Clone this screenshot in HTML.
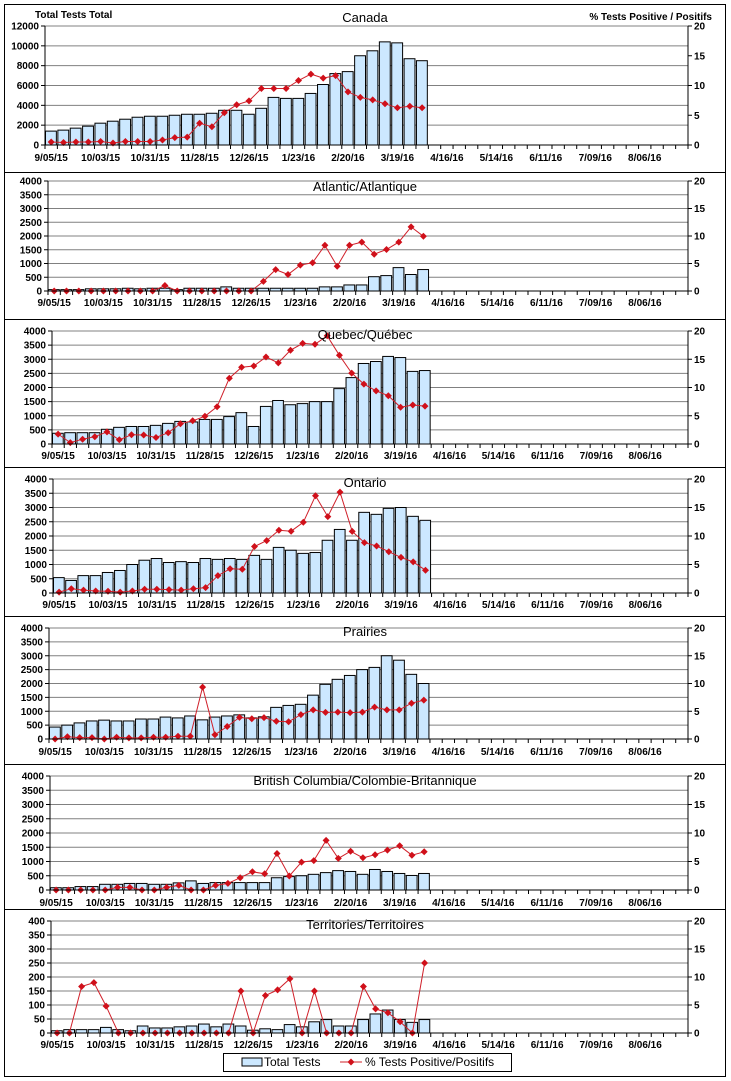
<!DOCTYPE html>
<html><head><meta charset="utf-8">
<style>
html,body{margin:0;padding:0;background:#fff;}
svg{display:block;}
text{font-family:"Liberation Sans",Arial,sans-serif;}
.t{font-size:10px;font-weight:bold;fill:#000;}
.ti{font-size:13px;fill:#000;}
</style></head>
<body>
<svg id="s" width="731" height="1081" viewBox="0 0 731 1081" xmlns="http://www.w3.org/2000/svg"></svg>
<script>
var P=[
{bt:4,bb:172,top:26,bot:145,x0:45,ymax:12000,step:2000,lab:157,title:"Canada",ty:22,scale:600,
 bars:[1400,1500,1700,1900,2200,2400,2600,2800,2900,2900,3000,3100,3100,3200,3500,3500,3100,3700,4800,4700,4700,5200,6100,7200,7400,9000,9500,10400,10300,8700,8500],
 line:[300,250,300,300,350,200,350,350,350,500,750,800,2200,1850,3250,4050,4450,5700,5700,5700,6500,7150,6750,7000,5350,4800,4550,4150,3750,3900,3750]},
{bt:172,bb:319,top:181,bot:291,x0:48,ymax:4000,step:500,lab:302,title:"Atlantic/Atlantique",ty:191,scale:200,
 bars:[50,50,50,80,80,80,100,80,100,100,50,100,100,100,150,100,100,100,100,100,100,100,150,150,220,220,520,560,850,600,780],
 line:[0,0,0,0,0,0,0,0,0,200,0,0,0,0,0,0,0,350,780,600,940,1030,1660,900,1660,1780,1340,1510,1780,2330,1990]},
{bt:319,bb:467,top:331,bot:444,x0:52,ymax:4000,step:500,lab:455,title:"Quebec/Québec",ty:339,scale:200,
 bars:[380,400,400,400,520,590,620,620,660,730,800,780,870,870,970,1110,620,1330,1540,1390,1430,1500,1500,1960,2350,2850,2920,3100,3060,2570,2600],
 line:[350,50,170,260,430,150,330,320,230,400,720,820,980,1320,2330,2720,2760,3080,2870,3320,3560,3530,3830,3140,2510,2120,1880,1710,1300,1380,1340]},
{bt:467,bb:616,top:479,bot:593,x0:53,ymax:4000,step:500,lab:604,title:"Ontario",ty:487,scale:200,
 bars:[540,440,610,610,720,790,1000,1150,1210,1070,1100,1070,1210,1180,1210,1180,1320,1180,1600,1500,1390,1420,1850,2230,1850,2830,2760,2970,3000,2690,2550],
 line:[30,150,100,70,60,30,70,130,130,120,100,150,190,610,850,830,1630,1840,2200,2170,2480,3410,2680,3540,2160,1770,1650,1450,1250,1090,800]},
{bt:616,bb:764,top:628,bot:739,x0:49,ymax:4000,step:500,lab:751,title:"Prairies",ty:636,scale:200,
 bars:[430,500,580,650,680,650,650,720,720,790,760,830,690,790,830,870,760,800,1140,1210,1250,1580,1970,2150,2290,2500,2580,3000,2840,2330,2000],
 line:[0,80,50,50,0,60,40,40,60,60,100,100,1870,150,450,780,730,770,640,620,880,1050,960,970,950,970,1150,1050,1050,1290,1400]},
{bt:764,bb:909,top:776,bot:890,x0:50,ymax:4000,step:500,lab:902,title:"British Columbia/Colombie-Britannique",ty:785,scale:200,
 bars:[80,80,120,120,200,200,230,230,200,200,250,320,230,260,260,260,260,260,430,470,500,550,610,680,650,550,720,650,580,510,580],
 line:[0,0,0,0,0,90,90,0,0,90,160,0,0,160,230,430,640,570,1280,490,980,1030,1740,1110,1360,1130,1240,1400,1550,1220,1340]},
{bt:909,bb:1077,top:921,bot:1033,x0:51,ymax:400,step:50,lab:1044,title:"Territories/Territoires",ty:929,scale:20,
 bars:[8,12,12,12,20,12,8,25,18,18,22,25,32,22,32,25,10,15,12,30,22,40,48,25,25,48,68,82,48,38,48],
 line:[0,0,166,180,96,0,0,0,0,0,0,0,0,0,0,150,0,134,154,194,0,150,0,0,0,166,86,72,40,0,250]}
];
var labels=["9/05/15","10/03/15","10/31/15","11/28/15","12/26/15","1/23/16","2/20/16","3/19/16","4/16/16","5/14/16","6/11/16","7/09/16","8/06/16"];
var X1=688,o="";
o+='<rect x="4.5" y="4.5" width="721" height="1072" fill="none" stroke="#000"/>';
P.forEach(function(p,pi){
 if(pi>0)o+='<line x1="4" x2="726" y1="'+(p.bt+0.5)+'" y2="'+(p.bt+0.5)+'" stroke="#000"/>';
 var h=p.bot-p.top, n=p.ymax/p.step, sl=(X1-p.x0)/52;
 function Y(v){return p.bot-v/p.ymax*h;}
 for(var i=0;i<=n;i++){var y=Y(i*p.step);
  if(i>0)o+='<line x1="'+p.x0+'" x2="'+X1+'" y1="'+y+'" y2="'+y+'" stroke="#808080"/>';
  o+='<line x1="'+(p.x0-4)+'" x2="'+p.x0+'" y1="'+y+'" y2="'+y+'" stroke="#000"/>';
  o+='<text class="t" x="'+(p.x0-6)+'" y="'+(y+3.5)+'" text-anchor="end">'+(i*p.step)+'</text>';}
 for(var i=0;i<=4;i++){var y=p.bot-i/4*h;
  o+='<line x1="'+X1+'" x2="'+(X1+4)+'" y1="'+y+'" y2="'+y+'" stroke="#000"/>';
  o+='<text class="t" x="'+(X1+6)+'" y="'+(y+3.5)+'">'+(i*5)+'</text>';}
 p.bars.forEach(function(v,i){var x=p.x0+i*sl+0.5;
  o+='<rect x="'+x+'" y="'+Y(v)+'" width="'+(sl-1.5)+'" height="'+(p.bot-Y(v))+'" fill="#CCE8FF" stroke="#000" stroke-width="1"/>';});
 var pts=p.line.map(function(v,i){return (p.x0+(i+0.5)*sl).toFixed(1)+','+Y(v).toFixed(1);});
 o+='<polyline points="'+pts.join(' ')+'" fill="none" stroke="#D0202A" stroke-width="1"/>';
 pts.forEach(function(s){var a=s.split(',');var x=+a[0],y=+a[1];
  o+='<polygon points="'+x+','+(y-3.5)+' '+(x+3.5)+','+y+' '+x+','+(y+3.5)+' '+(x-3.5)+','+y+'" fill="#D0101A"/>';});
 o+='<line x1="'+p.x0+'" x2="'+p.x0+'" y1="'+p.top+'" y2="'+p.bot+'" stroke="#000"/>';
 o+='<line x1="'+X1+'" x2="'+X1+'" y1="'+p.top+'" y2="'+p.bot+'" stroke="#000"/>';
 o+='<line x1="'+p.x0+'" x2="'+X1+'" y1="'+p.bot+'" y2="'+p.bot+'" stroke="#000"/>';
 for(var i=0;i<=52;i++){var x=p.x0+i*sl;o+='<line x1="'+x+'" x2="'+x+'" y1="'+p.bot+'" y2="'+(p.bot+4)+'" stroke="#000"/>';}
 labels.forEach(function(l,i){o+='<text class="t" x="'+(p.x0+(i*4+0.5)*sl)+'" y="'+(p.lab+4)+'" text-anchor="middle">'+l+'</text>';});
 o+='<text class="ti" x="365" y="'+p.ty+'" text-anchor="middle"'+(pi==0?' font-size="14"':'')+'>'+p.title+'</text>';
});
o+='<text class="t" x="35" y="18">Total Tests Total</text>';
o+='<text class="t" x="712" y="20" text-anchor="end">% Tests Positive / Positifs</text>';
o+='<rect x="223.5" y="1053.5" width="288" height="18" fill="#fff" stroke="#000"/>';
o+='<rect x="242" y="1058" width="20" height="8" fill="#CCE8FF" stroke="#000"/>';
o+='<text x="264" y="1066" font-size="12">Total Tests</text>';
o+='<line x1="340" x2="362" y1="1062" y2="1062" stroke="#D0202A"/>';
o+='<polygon points="351,1058.5 354.5,1062 351,1065.5 347.5,1062" fill="#D0101A"/>';
o+='<text x="365" y="1066" font-size="12">% Tests Positive/Positifs</text>';
document.getElementById("s").innerHTML=o;
</script>
</body></html>
